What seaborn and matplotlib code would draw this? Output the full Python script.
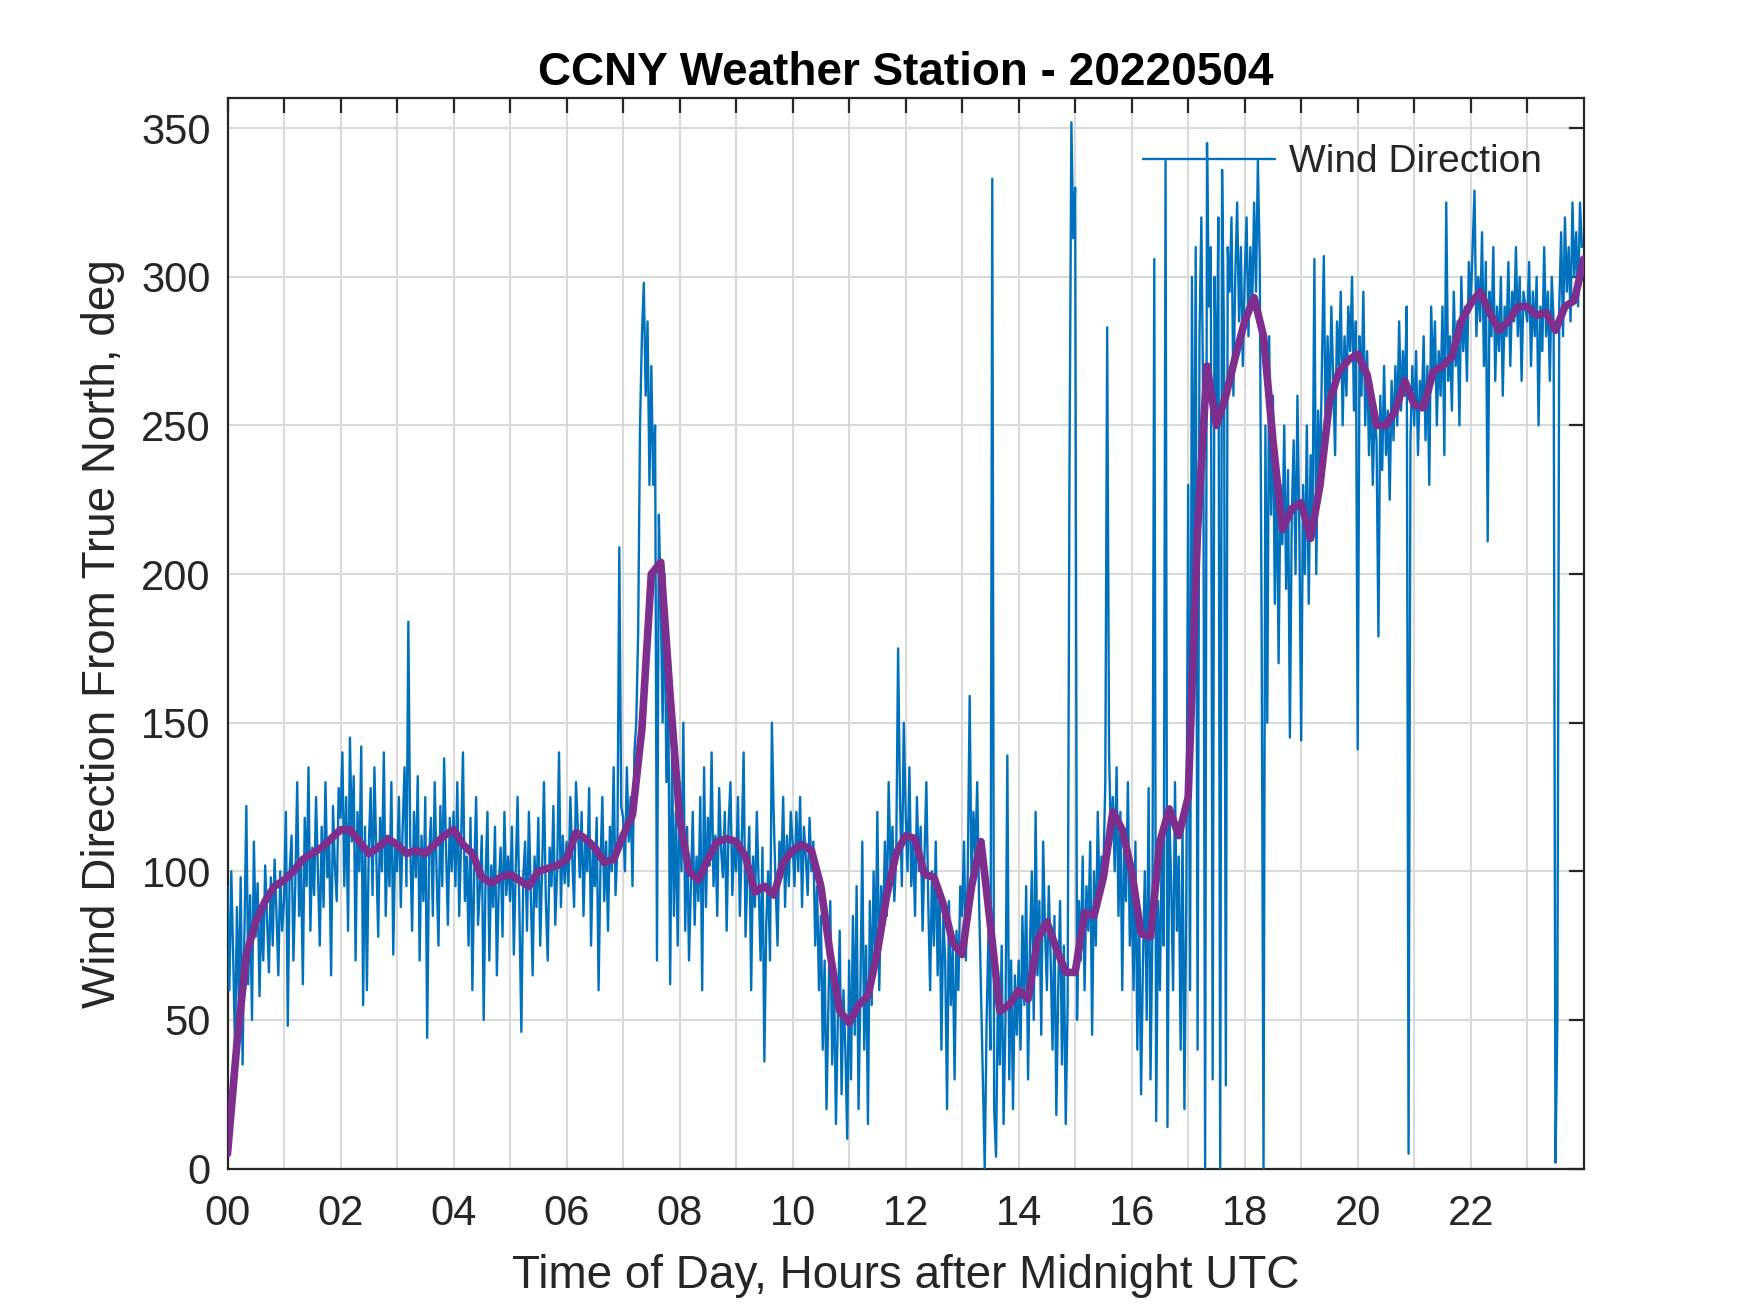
import numpy as np
import pandas as pd
import seaborn as sns
import matplotlib.pyplot as plt

# Wind direction, 2-minute samples, one list per hour (deg from true north)
dir_00 = [95, 60, 100, 72, 40, 88, 55, 98, 35, 80, 122, 62, 92, 50, 110, 78, 96, 58, 88, 70, 102, 84, 66, 98, 75, 104, 86, 65, 100, 80]
dir_01 = [90, 120, 48, 100, 112, 70, 96, 130, 85, 104, 62, 118, 95, 135, 80, 108, 92, 125, 100, 75, 115, 88, 130, 98, 110, 65, 122, 102, 90, 128]
dir_02 = [118, 140, 95, 125, 80, 145, 110, 132, 70, 120, 100, 142, 55, 115, 60, 108, 128, 92, 135, 105, 78, 118, 100, 140, 85, 112, 95, 130, 72, 110]
dir_03 = [100, 125, 88, 115, 135, 95, 184, 110, 80, 120, 98, 132, 70, 112, 90, 125, 44, 105, 118, 85, 130, 100, 75, 122, 95, 138, 108, 82, 118, 100]
dir_04 = [120, 95, 130, 85, 110, 140, 90, 105, 75, 118, 60, 100, 125, 82, 95, 112, 50, 98, 120, 70, 102, 88, 115, 65, 95, 108, 78, 120, 92, 105]
dir_05 = [90, 115, 72, 100, 125, 85, 46, 98, 110, 80, 120, 92, 65, 105, 88, 118, 75, 100, 130, 90, 70, 108, 95, 122, 82, 100, 140, 88, 112, 96]
dir_06 = [110, 95, 125, 105, 88, 130, 115, 98, 120, 85, 112, 100, 128, 75, 108, 95, 118, 60, 102, 125, 90, 110, 80, 115, 100, 135, 92, 108, 209, 122]
dir_07 = [118, 100, 135, 110, 125, 95, 140, 150, 180, 250, 280, 298, 260, 285, 230, 270, 230, 250, 70, 220, 190, 150, 200, 130, 160, 62, 140, 85, 120, 75]
dir_08 = [130, 100, 150, 80, 115, 70, 95, 120, 82, 105, 90, 125, 60, 135, 88, 118, 102, 140, 95, 112, 85, 128, 108, 98, 120, 80, 115, 130, 92, 110]
dir_09 = [100, 125, 85, 110, 140, 78, 98, 115, 60, 105, 88, 120, 95, 70, 108, 36, 82, 100, 70, 150, 118, 95, 75, 110, 100, 125, 88, 112, 95, 120]
dir_10 = [110, 95, 120, 100, 125, 88, 115, 105, 92, 118, 100, 110, 75, 95, 60, 85, 40, 70, 20, 55, 90, 35, 65, 15, 50, 80, 25, 60, 40, 10]
dir_11 = [70, 30, 85, 45, 95, 20, 60, 110, 40, 75, 15, 90, 55, 100, 70, 120, 60, 95, 80, 110, 85, 130, 100, 115, 90, 105, 175, 125, 95, 150]
dir_12 = [120, 100, 135, 95, 110, 85, 125, 100, 115, 80, 105, 130, 90, 60, 100, 75, 110, 65, 95, 40, 85, 70, 20, 90, 55, 75, 30, 80, 60, 95]
dir_13 = [85, 110, 70, 100, 159, 95, 120, 105, 130, 90, 60, 30, 0, 50, 80, 40, 333, 20, 4, 60, 35, 75, 15, 50, 139, 30, 70, 20, 65, 45]
dir_14 = [70, 40, 85, 55, 95, 30, 75, 100, 50, 120, 65, 90, 45, 110, 80, 60, 95, 70, 40, 85, 18, 60, 90, 35, 75, 15, 55, 236, 352, 313]
dir_15 = [330, 50, 90, 70, 105, 60, 95, 80, 110, 45, 100, 75, 120, 90, 105, 100, 130, 283, 140, 110, 125, 100, 135, 85, 120, 60, 110, 90, 130, 75]
dir_16 = [95, 60, 110, 40, 85, 25, 70, 100, 50, 128, 30, 80, 306, 16, 90, 60, 110, 75, 339, 14, 120, 95, 60, 130, 80, 105, 40, 115, 20, 90]
dir_17 = [230, 60, 300, 180, 310, 40, 280, 320, 255, 0, 345, 290, 310, 30, 300, 250, 320, 0, 336, 280, 28, 310, 295, 320, 260, 300, 325, 285, 310, 270]
dir_18 = [300, 320, 280, 310, 290, 325, 295, 339, 305, 180, 0, 250, 150, 280, 220, 260, 190, 240, 170, 230, 210, 250, 195, 235, 145, 220, 245, 200, 260, 215]
dir_19 = [144, 230, 200, 250, 190, 240, 215, 306, 200, 255, 230, 270, 307, 245, 280, 255, 290, 265, 240, 285, 270, 295, 250, 280, 260, 290, 275, 300, 255, 285]
dir_20 = [141, 280, 260, 295, 250, 275, 240, 265, 230, 255, 245, 179, 260, 235, 270, 240, 255, 225, 265, 245, 270, 250, 285, 255, 275, 260, 290, 5, 245, 270]
dir_21 = [250, 275, 240, 265, 255, 280, 245, 270, 230, 290, 265, 285, 250, 275, 260, 290, 240, 325, 265, 280, 255, 295, 270, 285, 250, 300, 275, 290, 265, 305]
dir_22 = [290, 310, 329, 280, 300, 285, 315, 270, 305, 211, 295, 280, 310, 265, 290, 275, 300, 260, 290, 280, 305, 270, 295, 285, 310, 280, 300, 265, 295, 290]
dir_23 = [285, 305, 270, 295, 280, 300, 250, 290, 275, 310, 280, 295, 265, 300, 285, 2, 50, 290, 315, 280, 320, 295, 310, 285, 325, 300, 315, 290, 325, 310]

# Running mean, 10-minute samples from 00:00 to 24:00
avg_dir = [5, 42, 72, 83, 90, 95,
           97, 100, 104, 106, 108, 111,
           114, 114, 110, 106, 108, 111,
           109, 106, 107, 106, 109, 112,
           114, 109, 106, 98, 96, 98,
           99, 97, 95, 100, 101, 102,
           104, 113, 111, 108, 103, 104,
           112, 119, 148, 200, 204, 159,
           118, 100, 97, 104, 110, 111,
           110, 105, 93, 95, 92, 103,
           107, 109, 107, 95, 72, 53,
           49, 55, 58, 73, 92, 106,
           112, 111, 99, 98, 89, 76,
           72, 95, 110, 82, 53, 55,
           60, 57, 77, 83, 74, 66,
           66, 86, 85, 98, 120, 114,
           100, 79, 78, 110, 121, 112,
           125, 215, 270, 250, 260, 273,
           285, 293, 280, 245, 215, 222,
           224, 212, 230, 258, 268, 272,
           274, 267, 250, 250, 255, 265,
           257, 256, 268, 270, 273, 285,
           291, 295, 288, 282, 285, 290,
           290, 287, 288, 282, 290, 292,
           306]

hours = [dir_00, dir_01, dir_02, dir_03, dir_04, dir_05, dir_06, dir_07,
         dir_08, dir_09, dir_10, dir_11, dir_12, dir_13, dir_14, dir_15,
         dir_16, dir_17, dir_18, dir_19, dir_20, dir_21, dir_22, dir_23]
wind = np.concatenate(hours)
raw = pd.DataFrame({'t': np.arange(len(wind)) * 2 / 60, 'dir': wind})
smooth = pd.DataFrame({'t': np.arange(len(avg_dir)) / 6, 'dir': avg_dir})

sns.set_theme(style="white")
plt.rcParams['font.family'] = ['Liberation Sans', 'DejaVu Sans']

fig = plt.figure(figsize=(17.5, 13.13), dpi=100)
ax = fig.add_axes([0.13, 0.11, 0.775, 0.815])

sns.lineplot(data=raw, x='t', y='dir', ax=ax, color='#0072BD', linewidth=1.7,
             label='Wind Direction', zorder=3)
sns.lineplot(data=smooth, x='t', y='dir', ax=ax, color='#7E2F8E', linewidth=5.5,
             legend=False, zorder=4)

ax.set_xlim(0, 24)
ax.set_ylim(0, 360)
ax.set_xticks(range(24))
ax.set_xticklabels([f"{h:02d}" if h % 2 == 0 else "" for h in range(24)])
ax.set_yticks(range(0, 351, 50))
ax.grid(True, color='#dadada', linewidth=1.5)
ax.set_axisbelow(True)
ax.tick_params(direction='in', length=11, width=1.6, top=True, right=True,
               labelsize=30, colors='#262626')
ax.tick_params(axis='x', pad=18)
ax.tick_params(axis='y', pad=12)
for s in ax.spines.values():
    s.set_color('#262626')
    s.set_linewidth(1.6)

ax.set_title('CCNY Weather Station - 20220504', fontsize=33, fontweight='bold',
             color='black', pad=10)
ax.set_xlabel('Time of Day, Hours after Midnight UTC', fontsize=33, color='#262626', labelpad=15)
ax.set_ylabel('Wind Direction From True North, deg', fontsize=33, color='#262626', labelpad=12)

handles, labels = ax.get_legend_handles_labels()
ax.legend(handles[:1], labels[:1], loc='upper right', frameon=False, fontsize=28,
          handlelength=3.4, handletextpad=0.35, bbox_to_anchor=(0.995, 0.99))

fig.savefig('out.png', dpi=100)
